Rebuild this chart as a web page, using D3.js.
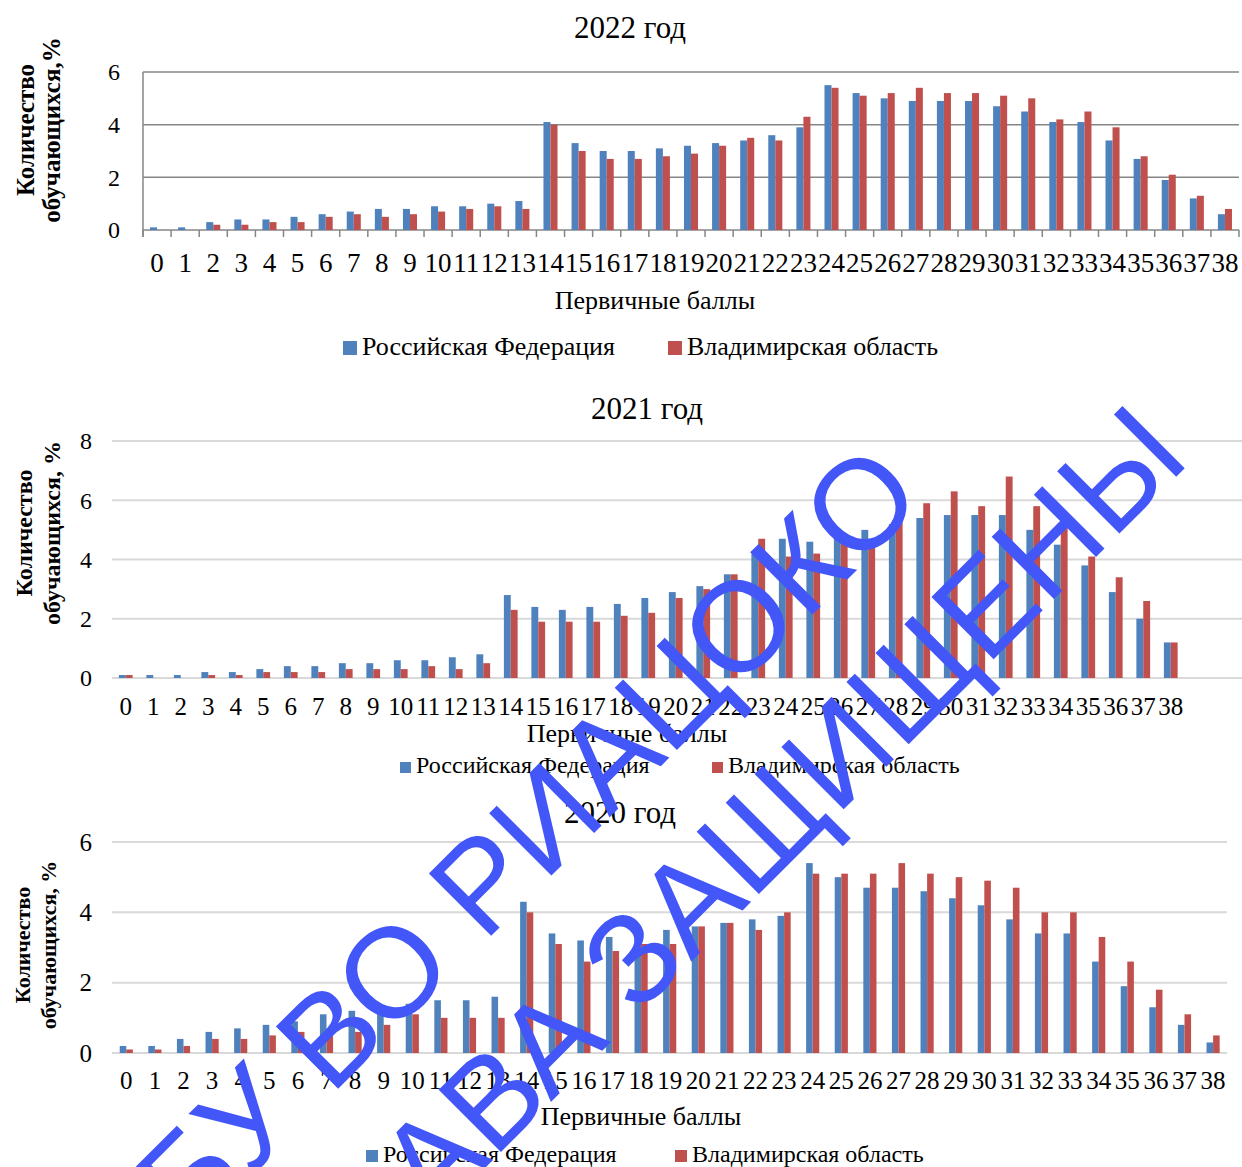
<!DOCTYPE html>
<html>
<head>
<meta charset="utf-8">
<script src="https://cdn.jsdelivr.net/npm/d3@7"></script>
<style>
  body { margin: 0; background: #fff; }
  text { font-family: "Liberation Serif", "Times New Roman", serif; fill: #000; }
</style>
</head>
<body>
<svg id="chart" width="1242" height="1167"></svg>
<script>
// categories: primary scores 0..38
const scores = ['0','1','2','3','4','5','6','7','8','9','10','11','12','13','14','15','16','17','18','19',
  '20','21','22','23','24','25','26','27','28','29','30','31','32','33','34','35','36','37','38'];
const seriesNames = ['Российская Федерация', 'Владимирская область'];
const seriesColors = ['#4f81bd', '#c0504d'];

// 2022
const rf2022 = [0.1,0.1,0.3,0.4,0.4,0.5,0.6,0.7,0.8,0.8,0.9,0.9,1.0,1.1,4.1,3.3,3.0,3.0,3.1,3.2,
  3.3,3.4,3.6,3.9,5.5,5.2,5.0,4.9,4.9,4.9,4.7,4.5,4.1,4.1,3.4,2.7,1.9,1.2,0.6];
const vo2022 = [0,0,0.2,0.2,0.3,0.3,0.5,0.6,0.5,0.6,0.7,0.8,0.9,0.8,4.0,3.0,2.7,2.7,2.8,2.9,
  3.2,3.5,3.4,4.3,5.4,5.1,5.2,5.4,5.2,5.2,5.1,5.0,4.2,4.5,3.9,2.8,2.1,1.3,0.8];
const ticks2022 = [0, 2, 4, 6];

// 2021
const rf2021 = [0.1,0.1,0.1,0.2,0.2,0.3,0.4,0.4,0.5,0.5,0.6,0.6,0.7,0.8,2.8,2.4,2.3,2.4,2.5,2.7,
  2.9,3.1,3.5,4.2,4.7,4.6,4.8,5.0,5.2,5.4,5.5,5.5,5.5,5.0,4.5,3.8,2.9,2.0,1.2];
const vo2021 = [0.1,0,0,0.1,0.1,0.2,0.2,0.2,0.3,0.3,0.3,0.4,0.3,0.5,2.3,1.9,1.9,1.9,2.1,2.2,
  2.7,3.0,3.5,4.7,4.1,4.2,4.7,4.7,5.6,5.9,6.3,5.8,6.8,5.8,5.2,4.1,3.4,2.6,1.2];
const ticks2021 = [0, 2, 4, 6, 8];

// 2020
const rf2020 = [0.2,0.2,0.4,0.6,0.7,0.8,0.9,1.1,1.2,1.3,1.4,1.5,1.5,1.6,4.3,3.4,3.2,3.3,3.4,3.5,
  3.6,3.7,3.8,3.9,5.4,5.0,4.7,4.7,4.6,4.4,4.2,3.8,3.4,3.4,2.6,1.9,1.3,0.8,0.3];
const vo2020 = [0.1,0.1,0.2,0.4,0.4,0.5,0.6,0.5,0.6,0.8,1.1,1.0,1.0,1.0,4.0,3.1,2.6,2.9,3.1,3.1,
  3.6,3.7,3.5,4.0,5.1,5.1,5.1,5.4,5.1,5.0,4.9,4.7,4.0,4.0,3.3,2.6,1.8,1.1,0.5];
const ticks2020 = [0, 2, 4, 6];

const yTitle = ['Количество', 'обучающихся, %'];
const xTitle = 'Первичные баллы';
const watermark = ['ГБУ ВО РИАЦОКО', 'ПРАВА ЗАЩИЩЕНЫ'];

const svg = d3.select('#chart');
svg.append('rect').attr('width', 1242).attr('height', 1167).attr('fill', '#fff');

function drawChart(title, rf, vo, ticks, lay) {
  const g = svg.append('g');
  const x = d3.scaleBand().domain(scores).range([lay.left, lay.right]);
  const bw = x.bandwidth();
  const xs = d3.scaleBand().domain([0, 1])
    .range([bw * (0.5 - lay.group / 2), bw * (0.5 + lay.group / 2)]);
  const y = d3.scaleLinear().domain([0, d3.max(ticks)]).range([lay.bottom, lay.top]);

  // grid
  g.selectAll('line.grid').data(ticks).join('line')
    .attr('class', 'grid')
    .attr('x1', lay.left).attr('x2', lay.gridRight)
    .attr('y1', d => y(d)).attr('y2', d => y(d))
    .attr('stroke', lay.gridColor).attr('stroke-width', lay.gridWidth);

  if (lay.axis) {
    g.append('line')
      .attr('x1', lay.left).attr('x2', lay.left)
      .attr('y1', y(d3.max(ticks))).attr('y2', lay.bottom + 7)
      .attr('stroke', lay.gridColor).attr('stroke-width', lay.gridWidth);
    const edges = scores.map(s => x(s)).concat([lay.right]);
    g.selectAll('line.tick').data(edges).join('line')
      .attr('x1', d => d).attr('x2', d => d)
      .attr('y1', lay.bottom).attr('y2', lay.bottom + 7)
      .attr('stroke', lay.gridColor).attr('stroke-width', lay.gridWidth);
  }

  // bars
  const groups = g.selectAll('g.cat').data(scores).join('g')
    .attr('transform', d => `translate(${x(d)},0)`);
  groups.selectAll('rect').data((d, i) => [rf[i], vo[i]]).join('rect')
    .attr('x', (d, j) => xs(j))
    .attr('width', xs.bandwidth())
    .attr('y', d => y(d))
    .attr('height', d => y(0) - y(d))
    .attr('fill', (d, j) => seriesColors[j]);

  // y tick labels
  g.selectAll('text.ylab').data(ticks).join('text')
    .attr('x', lay.yLabelX).attr('y', d => y(d)).attr('dy', '0.35em')
    .attr('text-anchor', 'end').attr('font-size', lay.yLabelSize)
    .text(d => d);

  // x tick labels
  g.selectAll('text.xlab').data(scores).join('text')
    .attr('x', d => x(d) + bw / 2).attr('y', lay.xLabelY)
    .attr('text-anchor', 'middle').attr('font-size', lay.xLabelSize)
    .text(d => d);

  // titles
  g.append('text').attr('x', lay.titleX).attr('y', lay.titleY)
    .attr('text-anchor', 'middle').attr('font-size', 31).text(title);
  g.append('text').attr('x', lay.xTitleX).attr('y', lay.xTitleY)
    .attr('text-anchor', 'middle').attr('font-size', 26).text(xTitle);
  yTitle.forEach((t, i) => {
    g.append('text')
      .attr('transform', `translate(${lay.yTitleX[i]},${lay.yTitleY}) rotate(-90)`)
      .attr('text-anchor', 'middle').attr('font-weight', 'bold')
      .attr('font-size', lay.yTitleSize)
      .text(i === 1 ? lay.yTitle2 : t);
  });

  // legend
  seriesNames.forEach((name, i) => {
    g.append('rect').attr('x', lay.legendX[i]).attr('y', lay.legendY - lay.legendBox)
      .attr('width', lay.legendBox).attr('height', lay.legendBox).attr('fill', seriesColors[i]);
    g.append('text').attr('x', lay.legendX[i] + lay.legendBox + 5).attr('y', lay.legendY)
      .attr('font-size', lay.legendSize).text(name);
  });
}

drawChart('2022 год', rf2022, vo2022, ticks2022, {
  left: 143, right: 1239, gridRight: 1239, top: 72, bottom: 230, group: 0.5,
  gridColor: '#868686', gridWidth: 1.5, axis: true,
  yLabelX: 120, yLabelSize: 24, xLabelY: 272, xLabelSize: 27,
  titleX: 630, titleY: 38, xTitleX: 655, xTitleY: 309,
  yTitleX: [34, 60], yTitleY: 130, yTitleSize: 25, yTitle2: 'обучающихся,%',
  legendX: [343, 668], legendY: 355, legendBox: 14, legendSize: 26
});

drawChart('2021 год', rf2021, vo2021, ticks2021, {
  left: 112, right: 1184.5, gridRight: 1242, top: 441, bottom: 678, group: 0.5,
  gridColor: '#d9d9d9', gridWidth: 2, axis: false,
  yLabelX: 92, yLabelSize: 24, xLabelY: 715, xLabelSize: 25,
  titleX: 647, titleY: 419, xTitleX: 627, xTitleY: 742,
  yTitleX: [32, 60], yTitleY: 533, yTitleSize: 24, yTitle2: 'обучающихся, %',
  legendX: [400, 712], legendY: 773, legendBox: 11, legendSize: 24
});

drawChart('2020 год', rf2020, vo2020, ticks2020, {
  left: 112, right: 1227.4, gridRight: 1227, top: 842, bottom: 1053, group: 0.46,
  gridColor: '#d9d9d9', gridWidth: 2, axis: false,
  yLabelX: 92, yLabelSize: 25, xLabelY: 1089, xLabelSize: 25,
  titleX: 620, titleY: 823, xTitleX: 641, xTitleY: 1125,
  yTitleX: [30, 56], yTitleY: 945, yTitleSize: 22, yTitle2: 'обучающихся, %',
  legendX: [366, 675], legendY: 1162, legendBox: 12, legendSize: 24
});

// watermark over the charts
const wm = svg.append('g');
[[927, 500], [1192, 461]].forEach((p, i) => {
  wm.append('text')
    .attr('transform', `translate(${p[0]},${p[1]}) rotate(-45)`)
    .attr('text-anchor', 'end')
    .style('font-family', '"Liberation Sans", Arial, sans-serif')
    .style('fill', '#4356f8')
    .attr('font-size', 128)
    .text(watermark[i]);
});
</script>
</body>
</html>
